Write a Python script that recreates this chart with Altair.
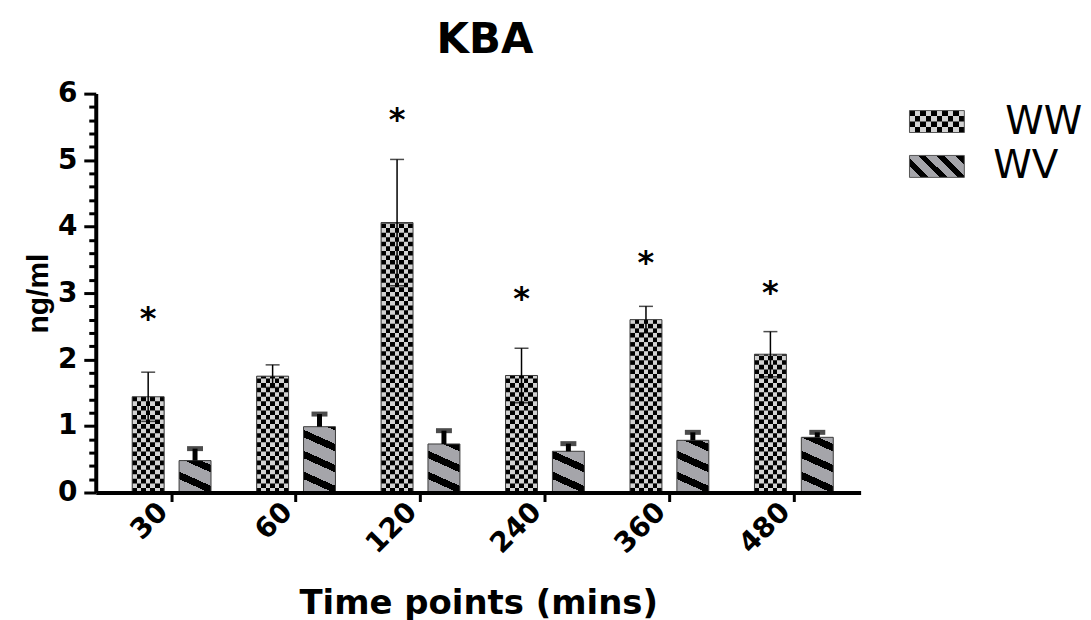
import math
import altair as alt
import pandas as pd

# ---------------- data ----------------
times = ["30", "60", "120", "240", "360", "480"]
series = ["WW", "WV"]
ww_mean = [1.44, 1.75, 4.06, 1.76, 2.60, 2.08]
ww_sem = [0.37, 0.17, 0.95, 0.41, 0.20, 0.34]
wv_mean = [0.48, 0.99, 0.73, 0.62, 0.785, 0.83]
wv_sem = [0.18, 0.19, 0.20, 0.115, 0.12, 0.075]
star_times = ["30", "120", "240", "360", "480"]
star_y = [2.64, 5.64, 2.94, 3.48, 3.03]
legend_labels = ["WW", "WV"]
y_ticks = [0, 1, 2, 3, 4, 5, 6]

# ---------------- layout / style ----------------
PLOT_W, PLOT_H = 767, 400
Y_MAX = 6
PX = PLOT_H / Y_MAX
BAR_W = 32
N_CELLS = 7
CELL = BAR_W / N_CELLS
BLACK = "#000000"
LIGHT = "#d2d2d2"
GRAY = "#a5a5aa"
EDGE = "#3a3a3a"
FONT = "DejaVu Sans"
minor_ticks = [round(i * 0.2, 1) for i in range(31) if i % 5 != 0]


def checker(ncols, start_black):
    stops = []
    for i in range(ncols):
        c = BLACK if ((i % 2 == 0) == start_black) else LIGHT
        stops.append(alt.GradientStop(color=c, offset=i / ncols))
        stops.append(alt.GradientStop(color=c, offset=(i + 1) / ncols))
    return alt.LinearGradient(gradient="linear", stops=stops, x1=0, x2=1, y1=0, y2=0)


def stripes(w, h, slope, period, frac):
    a, b = -slope * w, h
    n2 = a * a + b * b
    pmin, pmax = a, b
    span = pmax - pmin
    p0 = pmax
    k = math.floor((pmin - p0) / period) - 1
    segs = []
    while p0 + k * period < pmax:
        s0 = p0 + k * period
        segs.append((s0, s0 + frac * period, BLACK))
        segs.append((s0 + frac * period, s0 + period, GRAY))
        k += 1
    stops = []
    for s, e, c in segs:
        s, e = max(s, pmin), min(e, pmax)
        if e <= s:
            continue
        stops.append(alt.GradientStop(color=c, offset=(s - pmin) / span))
        stops.append(alt.GradientStop(color=c, offset=(e - pmin) / span))
    return alt.LinearGradient(
        gradient="linear", stops=stops,
        x1=a * pmin / n2, y1=b * pmin / n2, x2=a * pmax / n2, y2=b * pmax / n2,
    )


# ---------------- tables ----------------
ww_df = pd.DataFrame({"time": times, "series": "WW", "mean": ww_mean, "sem": ww_sem})
ww_df["lo"] = ww_df["mean"] - ww_df["sem"]
ww_df["hi"] = ww_df["mean"] + ww_df["sem"]
wv_df = pd.DataFrame({"time": times, "series": "WV", "mean": wv_mean, "sem": wv_sem})
wv_df["hi"] = wv_df["mean"] + wv_df["sem"]

rh = CELL / PX
rows = []
for t, m in zip(times, ww_mean):
    n = math.ceil(m / rh)
    for k in range(1, n, 2):
        rows.append({"time": t, "series": "WW", "y0": k * rh, "y1": min((k + 1) * rh, m)})
rows_df = pd.DataFrame(rows)
star_df = pd.DataFrame({"time": star_times, "series": "WW", "y": star_y})

# ---------------- encodings ----------------
x_axis = alt.Axis(
    title="Time points (mins)", labelAngle=-45, labelFont=FONT, labelFontSize=28,
    labelFontWeight="bold", labelColor="black", labelPadding=6, labelBaseline="middle",
    labelOffset=-8,
    domainColor="black", domainWidth=4, tickColor="black", tickWidth=3, tickSize=9,
    titleFont=FONT, titleFontSize=34, titleFontWeight="bold", titleColor="black",
    titlePadding=28, grid=False, zindex=1,
)
X = alt.X("time:N", sort=times, scale=alt.Scale(paddingInner=0, paddingOuter=0.073, align=0.75), axis=x_axis)
XO = alt.XOffset("series:N", sort=series, scale=alt.Scale(domain=series, paddingInner=0.319, paddingOuter=0.487))
y_scale = alt.Scale(domain=[0, Y_MAX], nice=False, zero=True)
y_axis = alt.Axis(
    orient="left", values=y_ticks, title="ng/ml", labelFont=FONT, labelFontSize=28,
    labelFontWeight="bold", labelColor="black", labelPadding=7,
    domainColor="black", domainWidth=4, tickColor="black", tickWidth=3, tickSize=12,
    titleFont="Liberation Sans", titleFontSize=30, titleFontWeight="bold", titleColor="black",
    titlePadding=4, grid=False, zindex=1,
)
minor_axis = alt.Axis(
    orient="left", values=minor_ticks, labels=False, domain=False, ticks=True,
    tickSize=7, tickWidth=3, tickColor="black", title="", grid=False, zindex=1,
)


def Y(field, axis=y_axis):
    return alt.Y(f"{field}:Q", scale=y_scale, axis=axis)


ww_base = alt.Chart(ww_df).mark_bar(color=checker(N_CELLS, True)).encode(x=X, xOffset=XO, y=Y("mean"))
ww_rows = alt.Chart(rows_df).mark_bar(color=checker(N_CELLS, False)).encode(
    x=X, xOffset=XO, y=Y("y0"), y2="y1")
ww_edge = alt.Chart(ww_df).mark_bar(fillOpacity=0, stroke=EDGE, strokeWidth=1).encode(
    x=X, xOffset=XO, y=Y("mean"))
ww_err = alt.Chart(ww_df).mark_rule(color="black", strokeWidth=1.5).encode(
    x=X, xOffset=XO, y=Y("lo"), y2="hi")
ww_cap_hi = alt.Chart(ww_df).mark_tick(color="black", size=14, thickness=1.5).encode(
    x=X, xOffset=XO, y=Y("hi"))
ww_cap_lo = alt.Chart(ww_df).mark_tick(color="black", size=14, thickness=1.5).encode(
    x=X, xOffset=XO, y=Y("lo"))

wv_bars = []
for t, m in zip(times, wv_mean):
    wv_bars.append(
        alt.Chart(wv_df).transform_filter(alt.datum.time == t)
        .mark_bar(color=stripes(BAR_W, m * PX, 0.45, 21, 0.36), stroke=EDGE, strokeWidth=1)
        .encode(x=X, xOffset=XO, y=Y("mean"))
    )
wv_stem = alt.Chart(wv_df).mark_rule(color="black", strokeWidth=5).encode(
    x=X, xOffset=XO, y=Y("mean"), y2="hi")
wv_cap = alt.Chart(wv_df).mark_tick(color="black", size=16, thickness=5).encode(
    x=X, xOffset=XO, y=Y("hi"))

stars = alt.Chart(star_df).mark_text(
    text="*", font=FONT, fontSize=32, fontWeight="bold", color="black", baseline="alphabetic", dy=12
).encode(x=X, xOffset=XO, y=Y("y", minor_axis))

inner = alt.layer(ww_base, ww_rows, ww_edge, ww_err, ww_cap_hi, ww_cap_lo, *wv_bars, wv_stem, wv_cap)
main = alt.layer(inner, stars).resolve_axis(y="independent").properties(width=PLOT_W, height=PLOT_H)

# ---------------- legend panel ----------------
leg_df = pd.DataFrame({"series": series, "label": legend_labels})
leg_rows = pd.DataFrame({"series": ["WW", "WW"], "row": [1, 3]})
LY = alt.Y("series:N", sort=series, axis=None,
           scale=alt.Scale(domain=series, paddingInner=0.511, paddingOuter=0.378))
LYO = alt.YOffset("row:O", scale=alt.Scale(domain=[0, 1, 2, 3], paddingInner=0, paddingOuter=0))
SYM_W = 55
leg_ww = alt.Chart(leg_df).transform_filter(alt.datum.series == "WW").mark_bar(
    color=checker(10, True)).encode(y=LY, x=alt.value(0), x2=alt.value(SYM_W))
leg_ww_rows = alt.Chart(leg_rows).mark_bar(color=checker(10, False)).encode(
    y=LY, yOffset=LYO, x=alt.value(0), x2=alt.value(SYM_W))
leg_wv = alt.Chart(leg_df).transform_filter(alt.datum.series == "WV").mark_bar(
    color=stripes(SYM_W, 22, 1.0, 19, 0.42)).encode(y=LY, x=alt.value(0), x2=alt.value(SYM_W))
leg_edge = alt.Chart(leg_df).mark_bar(fillOpacity=0, stroke="#555555", strokeWidth=1).encode(
    y=LY, x=alt.value(0), x2=alt.value(SYM_W))
leg_text_ww = alt.Chart(leg_df).transform_filter(alt.datum.series == "WW").mark_text(
    align="left", baseline="middle", font=FONT, fontSize=39, color="black", dx=12
).encode(y=LY, x=alt.value(84), text="label:N")
leg_text_wv = alt.Chart(leg_df).transform_filter(alt.datum.series == "WV").mark_text(
    align="left", baseline="middle", font=FONT, fontSize=39, color="black"
).encode(y=LY, x=alt.value(84), text="label:N")
legend = alt.layer(leg_ww, leg_ww_rows, leg_wv, leg_edge, leg_text_ww, leg_text_wv).properties(
    width=165, height=101)

chart = alt.hconcat(main, legend, spacing=48).properties(
    title=alt.TitleParams("KBA", font=FONT, fontSize=42, fontWeight="bold", color="black",
                          anchor="middle", offset=18, dx=-68),
    padding={"left": 15, "top": 10, "right": 0, "bottom": 0},
).configure_view(stroke=None)

chart.save("out.html", embed_options={"renderer": "svg", "actions": False})
